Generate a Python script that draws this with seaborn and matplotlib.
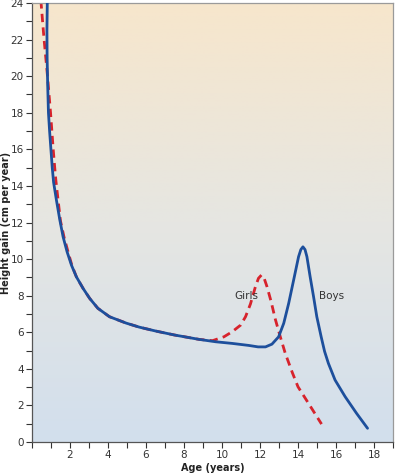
import numpy as np
import matplotlib
matplotlib.use("Agg")
import matplotlib.pyplot as plt
import seaborn as sns
import pandas as pd
from matplotlib.colors import LinearSegmentedColormap

# values
boys_age = [0.81, 0.79, 0.80, 0.83, 0.87, 0.93, 1.00, 1.07, 1.14, 1.29, 1.47, 1.64,
            1.85, 2.08, 2.34, 2.69, 3.04, 3.47, 4.08, 4.96, 5.65, 6.5, 7.5, 8.8, 9.67,
            10.54, 11.41, 11.9, 12.29, 12.63, 12.98, 13.25, 13.51, 13.77, 14.03, 14.15,
            14.26, 14.37, 14.47, 14.64, 14.82, 14.99, 15.22, 15.4, 15.6, 15.95, 16.48,
            17.08, 17.66]
boys_gain = [24.15, 22.5, 21.0, 19.5, 18.0, 17.0, 16.0, 15.0, 14.2, 13.22, 12.13, 11.22,
             10.4, 9.67, 9.03, 8.4, 7.85, 7.31, 6.85, 6.5, 6.28, 6.07, 5.85, 5.61, 5.48,
             5.39, 5.28, 5.2, 5.2, 5.35, 5.75, 6.49, 7.58, 8.85, 10.13, 10.52, 10.67,
             10.52, 10.13, 9.03, 7.94, 6.85, 5.75, 4.95, 4.3, 3.39, 2.48, 1.57, 0.75]

girls_age = [0.47, 0.64, 0.82, 0.98, 1.12, 1.2, 1.26, 1.38, 1.5, 1.69, 1.9, 2.1, 2.34,
             2.69, 3.04, 3.47, 4.08, 4.96, 5.65, 6.5, 7.5, 8.8, 9.5, 10.1, 10.54, 10.98,
             11.24, 11.5, 11.76, 11.92, 12.08, 12.22, 12.37, 12.58, 12.81, 13.07, 13.33,
             13.7, 14.0, 14.5, 15.24]
girls_gain = [24.15, 22.0, 20.0, 18.0, 16.0, 15.0, 14.3, 13.2, 12.1, 11.2, 10.4, 9.67,
              9.03, 8.4, 7.85, 7.31, 6.85, 6.5, 6.28, 6.07, 5.85, 5.61, 5.54, 5.75, 6.03,
              6.39, 6.85, 7.55, 8.49, 8.95, 9.13, 8.95, 8.49, 7.7, 6.7, 5.75, 4.85, 3.8,
              3.02, 2.2, 0.98]

x_ticks = list(range(0, 20))
y_ticks = list(range(0, 25))

boys = pd.DataFrame({"age": boys_age, "gain": boys_gain})
girls = pd.DataFrame({"age": girls_age, "gain": girls_gain})

sns.set_style("ticks")
plt.rcParams['font.family'] = ['Liberation Sans Narrow', 'DejaVu Sans']

fig = plt.figure(figsize=(3.99, 4.76), dpi=100)
ax = fig.add_axes([0.080, 0.0714, 0.905, 0.9223])

# background gradient, peach at top to pale blue at bottom
cmap = LinearSegmentedColormap.from_list("bg", ["#d2dfed", "#e6e6e2", "#f7e6cc"])
grad = np.linspace(0, 1, 256).reshape(-1, 1)
ax.imshow(grad, extent=[0, 19, 0, 24], origin="lower", aspect="auto", cmap=cmap, zorder=0)

sns.lineplot(data=girls, x="age", y="gain", sort=False, ax=ax, color="#d7232c",
             linewidth=2.0, zorder=2)
ax.lines[-1].set_dashes([3.0, 1.9])
sns.lineplot(data=boys, x="age", y="gain", sort=False, ax=ax, color="#1d4f9c",
             linewidth=2.0, zorder=3)
for ln in ax.lines:
    ln.set_solid_joinstyle("round")
    ln.set_dash_joinstyle("round")

ax.text(11.26, 7.98, "Girls", fontsize=7.5, color="#333333", ha="center", va="center")
ax.text(15.76, 8.0, "Boys", fontsize=7.5, color="#333333", ha="center", va="center")

ax.set_xlim(0, 19)
ax.set_ylim(0, 24)
ax.set_xticks(x_ticks)
ax.set_xticklabels([str(t) if t % 2 == 0 and t > 0 else "" for t in x_ticks])
ax.set_yticks(y_ticks)
ax.set_yticklabels([str(t) if t % 2 == 0 else "" for t in y_ticks])
ax.tick_params(axis="both", labelsize=7.5, colors="#333333", length=4, width=0.8, pad=2)

ax.set_xlabel("Age (years)", fontsize=7, fontweight="bold", color="#222222", labelpad=2)
ax.set_ylabel("Height gain (cm per year)", fontsize=7, fontweight="bold", color="#222222")
ax.yaxis.set_label_coords(-0.058, 0.5)

for side in ["left", "bottom"]:
    ax.spines[side].set_color("#555555")
    ax.spines[side].set_linewidth(0.9)
for side in ["top", "right"]:
    ax.spines[side].set_visible(True)
    ax.spines[side].set_color("#9a9a9a")
    ax.spines[side].set_linewidth(0.9)

fig.savefig("out.png", dpi=100)
